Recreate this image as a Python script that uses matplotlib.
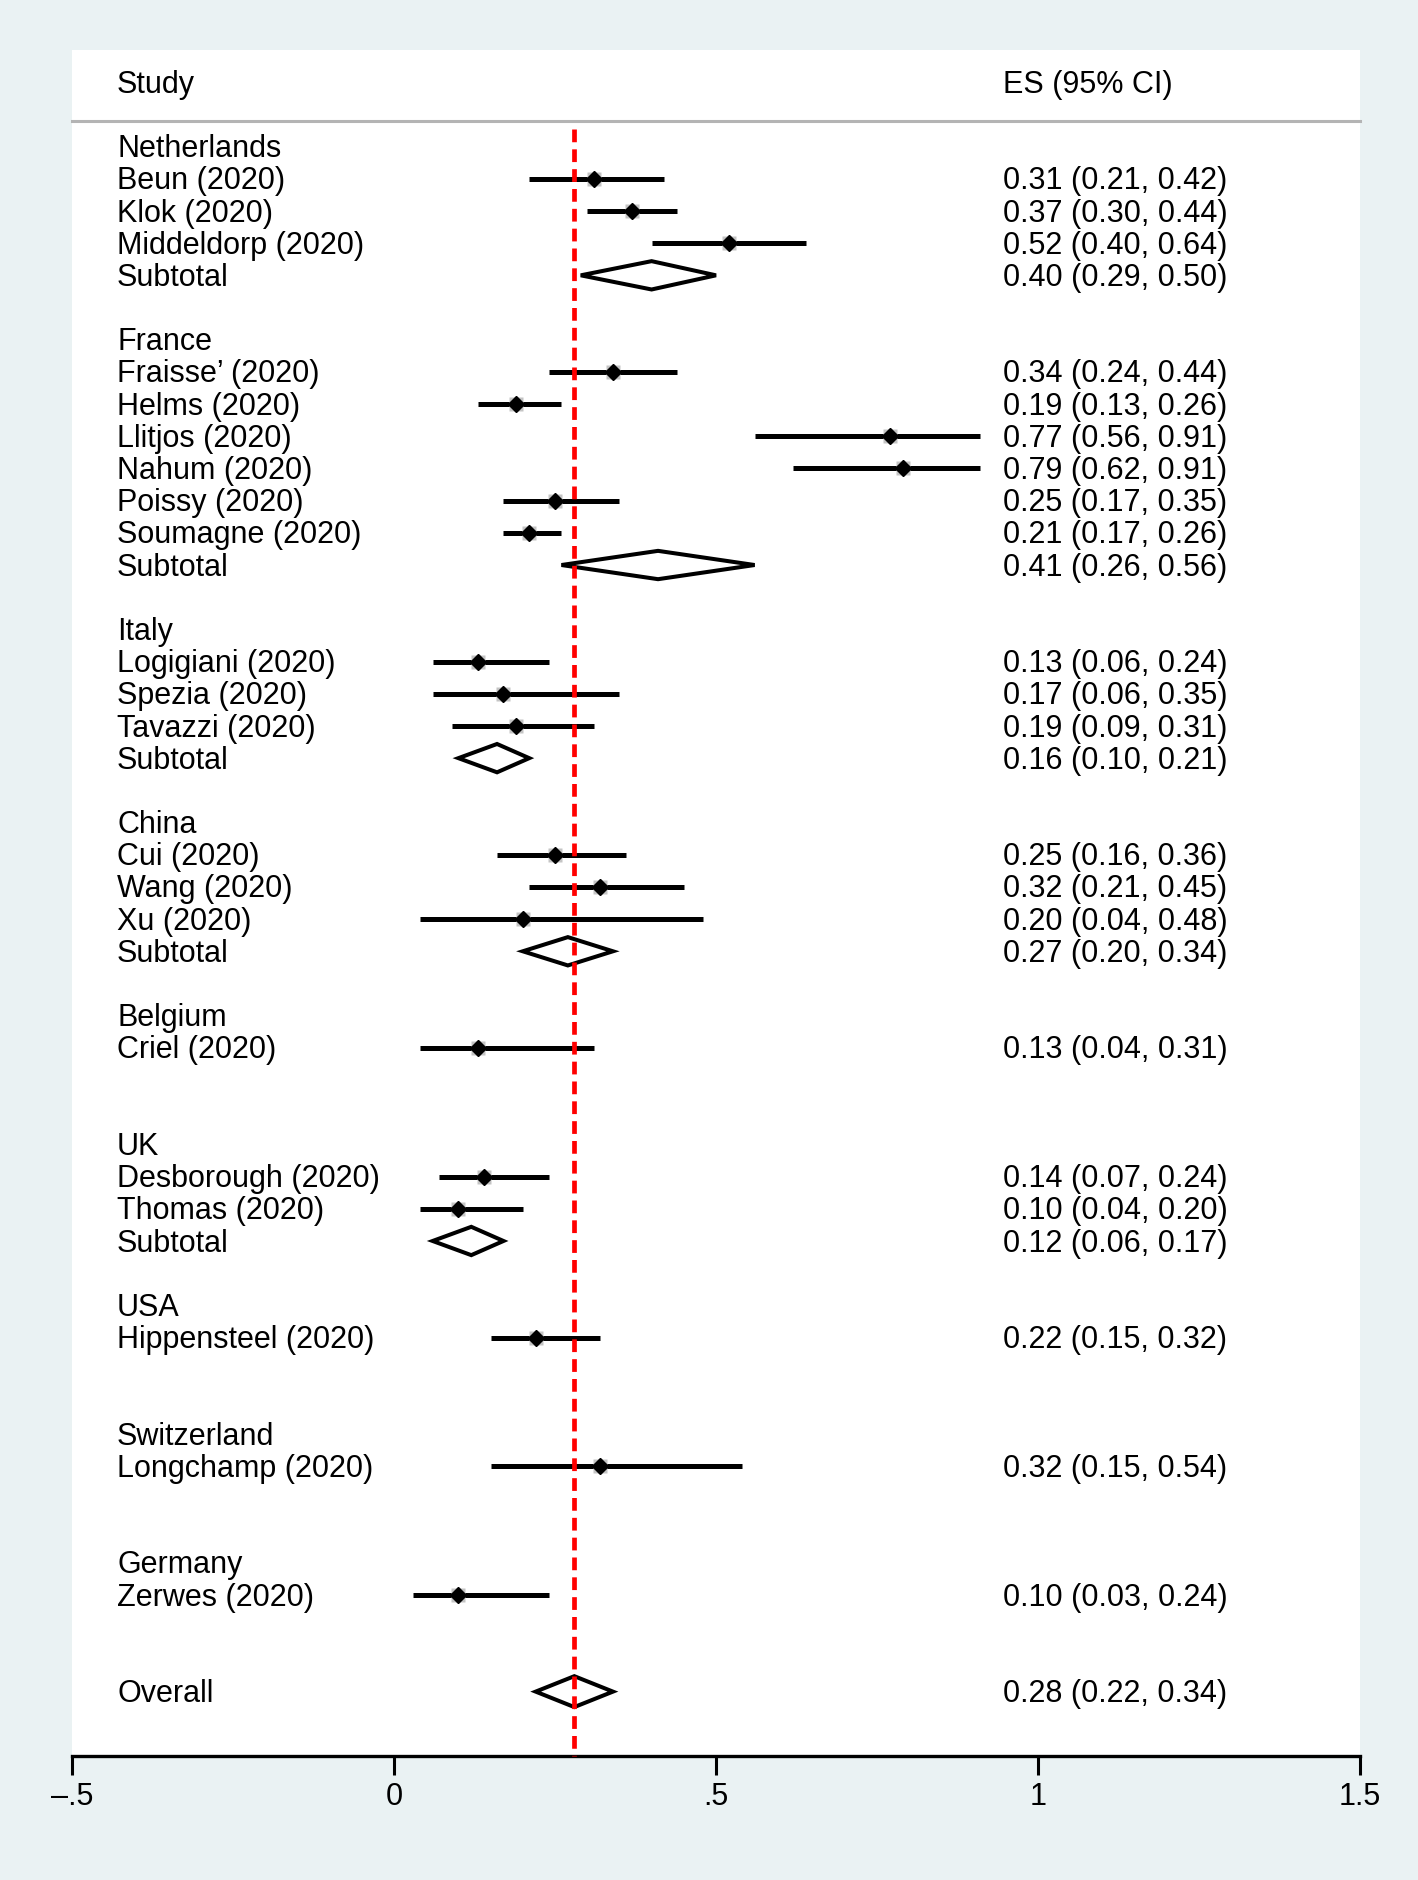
import matplotlib
matplotlib.use('Agg')
import matplotlib.pyplot as plt
from matplotlib.patches import Polygon
import matplotlib.transforms as mtransforms

plt.rcParams['font.family'] = ['Liberation Sans', 'DejaVu Sans']

# data
groups = ['Netherlands', 'France', 'Italy', 'China', 'Belgium', 'UK', 'USA',
          'Switzerland', 'Germany']
studies = [
    ['Beun (2020)', 'Klok (2020)', 'Middeldorp (2020)'],
    ['Fraisse’ (2020)', 'Helms (2020)', 'Llitjos (2020)', 'Nahum (2020)',
     'Poissy (2020)', 'Soumagne (2020)'],
    ['Logigiani (2020)', 'Spezia (2020)', 'Tavazzi (2020)'],
    ['Cui (2020)', 'Wang (2020)', 'Xu (2020)'],
    ['Criel (2020)'],
    ['Desborough (2020)', 'Thomas (2020)'],
    ['Hippensteel (2020)'],
    ['Longchamp (2020)'],
    ['Zerwes (2020)'],
]
es = [[0.31, 0.37, 0.52], [0.34, 0.19, 0.77, 0.79, 0.25, 0.21],
      [0.13, 0.17, 0.19], [0.25, 0.32, 0.20], [0.13], [0.14, 0.10],
      [0.22], [0.32], [0.10]]
lo = [[0.21, 0.30, 0.40], [0.24, 0.13, 0.56, 0.62, 0.17, 0.17],
      [0.06, 0.06, 0.09], [0.16, 0.21, 0.04], [0.04], [0.07, 0.04],
      [0.15], [0.15], [0.03]]
hi = [[0.42, 0.44, 0.64], [0.44, 0.26, 0.91, 0.91, 0.35, 0.26],
      [0.24, 0.35, 0.31], [0.36, 0.45, 0.48], [0.31], [0.24, 0.20],
      [0.32], [0.54], [0.24]]
# subtotals (None for single-study groups)
sub_es = [0.40, 0.41, 0.16, 0.27, None, 0.12, None, None, None]
sub_lo = [0.29, 0.26, 0.10, 0.20, None, 0.06, None, None, None]
sub_hi = [0.50, 0.56, 0.21, 0.34, None, 0.17, None, None, None]
overall = (0.28, 0.22, 0.34)

bg = '#EAF2F3'
fs = 22
dy = 0.08  # small nudge so text sits on the row like Stata does

fig = plt.figure(figsize=(14.18, 18.8), dpi=100, facecolor=bg)
ax = fig.add_axes([72 / 1418, 1 - 1756 / 1880, 1288 / 1418, 1706 / 1880])
ax.set_facecolor('white')
ax.set_xlim(-0.5, 1.5)
ax.set_ylim(50, -3)

tr = mtransforms.blended_transform_factory(ax.transAxes, ax.transData)
lab_x = 0.035
es_x = 0.723


def put(x, row, s):
    ax.text(x, row + dy, s, transform=tr, va='center', fontsize=fs)


def ci_text(e, l, h):
    return '%.2f (%.2f, %.2f)' % (e, l, h)


def diamond(e, l, h, row, half=0.44):
    pts = [(l, row), (e, row - half), (h, row), (e, row + half)]
    ax.add_patch(Polygon(pts, closed=True, facecolor='white',
                         edgecolor='black', lw=2.9, joinstyle='miter', zorder=4))


# header
put(lab_x, -2, 'Study')
put(es_x, -2, 'ES (95% CI)')
ax.plot([0, 1], [-0.8, -0.8], transform=tr, color='#b4b4b4', lw=2.2,
        clip_on=False)

row = 0
for g in range(len(groups)):
    put(lab_x, row, groups[g])
    row += 1
    for name, e, l, h in zip(studies[g], es[g], lo[g], hi[g]):
        put(lab_x, row, name)
        put(es_x, row, ci_text(e, l, h))
        ax.plot([l, h], [row, row], color='black', lw=3.6,
                solid_capstyle='butt', zorder=3)
        ax.plot(e, row, marker='s', ms=9.5, color='#c4c4c4', mec='none',
                zorder=4)
        ax.plot(e, row, marker='D', ms=8, color='black', zorder=5)
        row += 1
    if sub_es[g] is not None:
        put(lab_x, row, 'Subtotal')
        put(es_x, row, ci_text(sub_es[g], sub_lo[g], sub_hi[g]))
        diamond(sub_es[g], sub_lo[g], sub_hi[g], row)
    row += 2

put(lab_x, row, 'Overall')
put(es_x, row, ci_text(*overall))
diamond(overall[0], overall[1], overall[2], row, half=0.48)

# reference line at the overall estimate
ax.plot([overall[0], overall[0]], [-0.55, 50], color='red', lw=3.4,
        dashes=(2.7, 1.5), zorder=6, clip_on=False)

for s in ['top', 'left', 'right']:
    ax.spines[s].set_visible(False)
ax.spines['bottom'].set_linewidth(2.4)
ax.set_yticks([])
ax.set_xticks([-0.5, 0, 0.5, 1, 1.5])
ax.set_xticklabels(['\u2013.5', '0', '.5', '1', '1.5'], fontsize=fs)
ax.tick_params(axis='x', length=14, width=2.2, pad=5, direction='out')

fig.savefig('out.png', dpi=100, facecolor=bg)
